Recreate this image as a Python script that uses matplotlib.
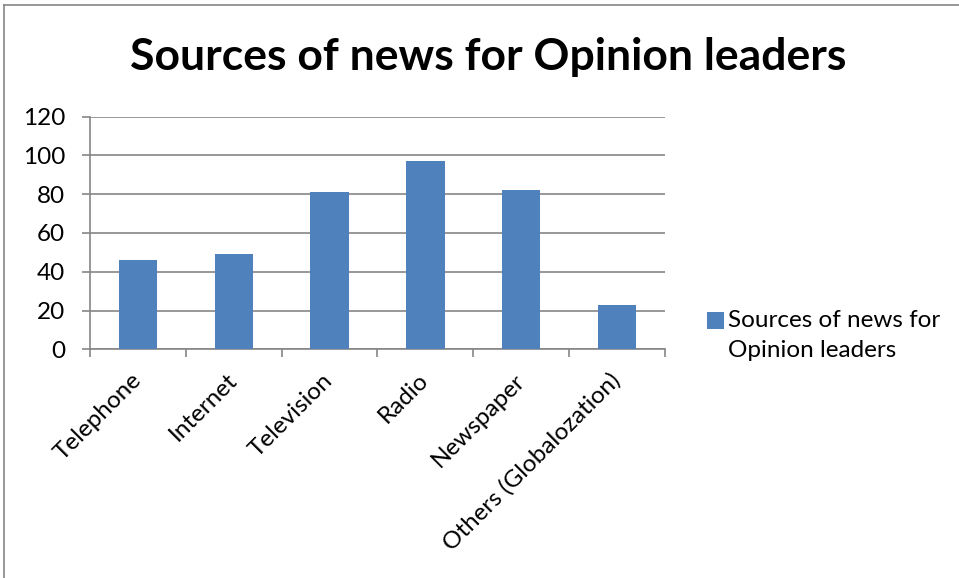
import matplotlib.pyplot as plt
from matplotlib.lines import Line2D
from matplotlib.patches import Rectangle
from matplotlib.legend_handler import HandlerPatch
from matplotlib.ticker import FixedLocator
import numpy as np

categories = ["Telephone", "Internet", "Television", "Radio", "Newspaper",
              "Others (Globalozation)"]
values = [46, 49, 81, 97, 82, 23]
series_name = "Sources of news for\nOpinion leaders"
chart_title = "Sources of news for Opinion leaders"
y_ticks = [0, 20, 40, 60, 80, 100, 120]

plt.rcParams['font.family'] = ['Lato', 'DejaVu Sans']

BAR = '#4F81BD'
GRID = '#868686'
FS = 17.5

fig = plt.figure(figsize=(9.59, 5.78), dpi=100)
ax = fig.add_axes([0.0938, 0.3957, 0.5996, 0.4024])

x = np.arange(len(categories))
bars = ax.bar(x, values, width=0.4, color=BAR, zorder=3)

ax.set_xlim(-0.5, len(categories) - 0.5)
ax.set_ylim(0, 120)
ax.set_yticks(y_ticks)
ax.yaxis.grid(True, color=GRID, linewidth=1.2, zorder=0)

# category labels sit at bar centres, tick marks at category boundaries
ax.set_xticks(x)
ax.set_xticklabels(categories, rotation=45, ha='right', va='center',
                   rotation_mode='anchor', fontsize=FS)
ax.xaxis.set_minor_locator(FixedLocator(np.arange(len(categories) + 1) - 0.5))
ax.tick_params(axis='x', which='major', length=0, pad=20)
ax.tick_params(axis='x', which='minor', length=6, width=1.2, color=GRID)
ax.tick_params(axis='y', length=6, width=1.2, color=GRID, pad=12,
               labelsize=FS)

for side in ('top', 'right'):
    ax.spines[side].set_visible(False)
for side in ('left', 'bottom'):
    ax.spines[side].set_color(GRID)
    ax.spines[side].set_linewidth(1.2)

fig.text(0.509, 0.901, chart_title, ha='center', va='center',
         fontsize=32, fontweight='bold')


# legend key sits beside the first line of the wrapped label
def top_square(legend, orig_handle, xdescent, ydescent, width, height, fontsize):
    return Rectangle((-xdescent, -ydescent + 0.6 * fontsize), width, height)


leg = fig.legend([bars[0]], [series_name], loc='upper left',
                 bbox_to_anchor=(0.714, 0.502), frameon=False, fontsize=FS,
                 handlelength=0.7, handleheight=0.7, handletextpad=0.2,
                 handler_map={Rectangle: HandlerPatch(patch_func=top_square)})
leg.get_texts()[0].set_linespacing(1.55)

# chart frame
fig.add_artist(Line2D([4 / 959, 4 / 959], [0, 1 - 5 / 578], color=GRID, lw=1.2))
fig.add_artist(Line2D([4 / 959, 1], [1 - 5 / 578, 1 - 5 / 578], color=GRID, lw=1.2))

fig.savefig('out.png', dpi=100)
